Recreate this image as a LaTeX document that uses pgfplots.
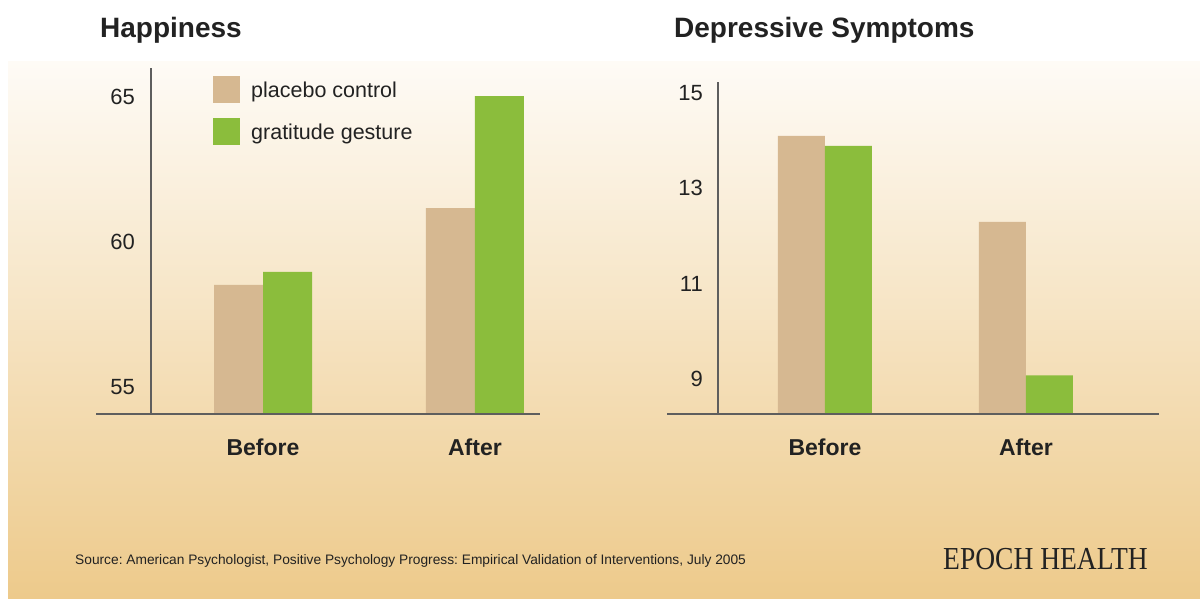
\documentclass[border=0pt]{standalone}
\usepackage{pgfplots}
\pgfplotsset{compat=1.18}
\usepackage{fontspec}
\setmainfont{Liberation Sans}
\newfontfamily\serifepoch{Liberation Serif}
\definecolor{tan}{HTML}{D6B891}
\definecolor{grn}{HTML}{8BBD3C}
\definecolor{axgray}{HTML}{5E5E5E}
\definecolor{txt}{HTML}{222222}
\definecolor{bgtop}{HTML}{FEFBF6}
\definecolor{bgmid}{HTML}{F7E8CB}
\definecolor{bgbot}{HTML}{EDCA8B}
\pgfplotsset{
  panel/.style={
    scale only axis, anchor=south west,
    axis on top,
    axis x line*=bottom, axis y line*=left,
    x axis line style={draw=axgray, line width=2.5pt},
    y axis line style={draw=none},
    ybar=0pt,
    xtick={0,1}, xticklabels={Before,After},
    major tick length=0pt,
    xticklabel style={font=\fontsize{23}{23}\selectfont\bfseries, text=txt, anchor=base, inner sep=0pt, yshift=-41pt},
    yticklabel style={font=\fontsize{22}{22}\selectfont, text=txt, anchor=east, inner sep=0pt},
    /pgf/number format/assume math mode=true,
  }
}
\begin{document}
\frenchspacing
\begin{tikzpicture}[x=1pt,y=1pt]
\fill[white] (0,0) rectangle (1200,598);
\shade[top color=bgtop, middle color=bgmid, bottom color=bgbot] (8,0) rectangle (1200,536);
\node[anchor=base west, inner sep=0pt, font=\fontsize{28}{28}\selectfont\bfseries, text=txt] at (100,560) {Happiness};
\node[anchor=base west, inner sep=0pt, font=\fontsize{28}{28}\selectfont\bfseries, text=txt] at (674,560) {Depressive Symptoms};

\begin{axis}[panel, at={(96pt,184pt)}, width=444pt, height=346pt,
  xmin=-0.788, xmax=1.307, ymin=54.07, ymax=66,
  ytick={55,60,65}, bar width=49pt,
  yticklabel style={xshift=39pt},
  legend style={draw=none, fill=none, at={(0.2635,0.977)}, anchor=north west, inner sep=0pt,
    row sep=15pt, column sep=9pt, font=\fontsize{21.5}{22}\selectfont, text=txt},
  legend cell align=left]
\addplot[fill=tan, draw=none, legend image code/.code={\fill[tan] (0pt,-13pt) rectangle (27pt,14pt);}] coordinates {(0,58.52) (1,61.17)};
\addplot[fill=grn, draw=none, legend image code/.code={\fill[grn] (0pt,-13pt) rectangle (27pt,14pt);}] coordinates {(0,58.97) (1,65.03)};
\legend{placebo control, gratitude gesture}
\draw[axgray, line width=2.5pt] (axis cs:-0.528,54.07) -- (axis cs:-0.528,66);
\end{axis}

\begin{axis}[panel, at={(667pt,184pt)}, width=492pt, height=332pt,
  xmin=-0.786, xmax=1.662, ymin=8.27, ymax=15.23,
  ytick={9,11,13,15}, bar width=47pt,
  yticklabel style={xshift=36pt}]
\addplot[fill=tan, draw=none] coordinates {(0,14.10) (1,12.30)};
\addplot[fill=grn, draw=none] coordinates {(0,13.89) (1,9.08)};
\draw[axgray, line width=2.5pt] (axis cs:-0.532,8.27) -- (axis cs:-0.532,15.23);
\end{axis}

\node[anchor=base west, inner sep=0pt, font=\fontsize{13.75}{14}\selectfont, text=txt] at (75,34) {Source: American Psychologist, Positive Psychology Progress: Empirical Validation of Interventions, July 2005};
\node[anchor=base west, inner sep=0pt, text=txt] at (943,29) {\scalebox{0.86}[1]{\serifepoch\fontsize{32}{32}\selectfont EPOCH HEALTH}};
\end{tikzpicture}
\end{document}
